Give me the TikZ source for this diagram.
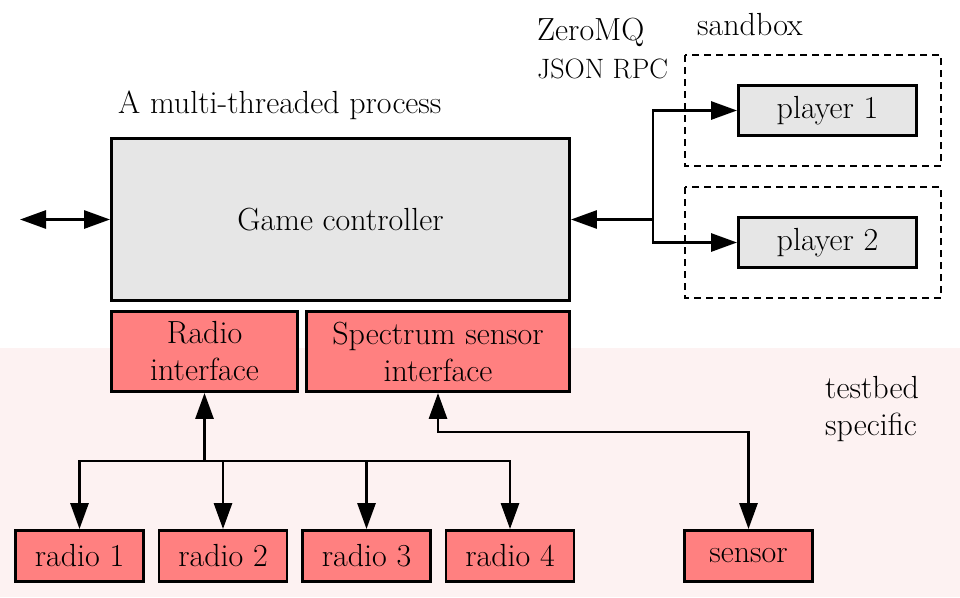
\documentclass[tikz,border=0pt]{standalone}
\usepackage{fontspec}
\setmainfont{Latin Modern Roman}
\usetikzlibrary{arrows.meta}
\definecolor{boxgray}{RGB}{230,230,230}
\definecolor{boxred}{RGB}{255,128,128}
\definecolor{bgpink}{RGB}{253,242,242}
\begin{document}
\begin{tikzpicture}[x=1pt,y=-1pt,
  every node/.style={font=\fontsize{32}{37}\selectfont},
  graybox/.style={draw=black,line width=2.9pt,fill=boxgray,inner sep=0pt},
  redbox/.style={draw=black,line width=2.9pt,fill=boxred,inner sep=0pt,align=center},
  conn/.style={line width=2.9pt,-{Triangle[length=26pt,width=18pt]}},
  bconn/.style={line width=2.9pt,{Triangle[length=26pt,width=18pt]}-{Triangle[length=26pt,width=18pt]}},
  sandboxframe/.style={draw=black,line width=2.9pt,dash pattern=on 7pt off 5pt},
  label/.style={inner sep=0pt,align=left}]
\useasboundingbox (0,0) rectangle (960,597);
\fill[bgpink] (0,348) rectangle (960,597);
% sandboxes
\draw[sandboxframe] (685,55) rectangle (941,166);
\draw[sandboxframe] (685,187) rectangle (941,298);
% boxes
\node[graybox,minimum width=458pt,minimum height=162pt] (gc) at (340.5,219.5) {Game controller};
\node[redbox,minimum width=186pt,minimum height=80pt] (ri) at (204.5,351.5) {Radio\\interface};
\node[redbox,minimum width=263pt,minimum height=80pt] (ssi) at (438,351.5) {Spectrum sensor\\interface};
\node[graybox,minimum width=178pt,minimum height=50pt] (p1) at (827.5,110.5) {player 1};
\node[graybox,minimum width=178pt,minimum height=50pt] (p2) at (827.5,242.5) {player 2};
\node[redbox,minimum width=128pt,minimum height=51pt] (r1) at (79.5,556) {radio 1};
\node[redbox,minimum width=128pt,minimum height=51pt] (r2) at (223,556) {radio 2};
\node[redbox,minimum width=128pt,minimum height=51pt] (r3) at (366.5,556) {radio 3};
\node[redbox,minimum width=128pt,minimum height=51pt] (r4) at (510,556) {radio 4};
\node[redbox,minimum width=128pt,minimum height=51pt] (sen) at (748.5,556) {sensor};
% labels
\node[label,anchor=base west] (proc) at (118,113) {A multi-threaded process};
\node[label,anchor=base west] (zmq) at (537,40) {ZeroMQ};
\node[label,anchor=base west,font=\fontsize{28}{37}\selectfont] (json) at (537,78) {JSON RPC};
\node[label,anchor=base west] (sbx) at (697,35) {sandbox};
\node[label,anchor=base west] (tb) at (825,398) {testbed};
\node[label,anchor=base west] (spec) at (825,435) {specific};
% connectors
\coordinate (ext) at (20,219.5);
\draw[bconn] (ext) -- (gc.west);
\coordinate (rj) at (653,219.5);
\draw[conn] (rj) -- (gc.east);
\draw[conn] (rj) |- (p1.west);
\draw[conn] (rj) |- (p2.west);
\coordinate (bus) at (204.5,461);
\draw[conn] (bus) -- (ri.south);
\draw[conn] (bus) -| (r1.north);
\draw[conn] (bus) -| (r2.north);
\draw[conn] (bus) -| (r3.north);
\draw[conn] (bus) -| (r4.north);
\coordinate (sb) at (438,432);
\draw[bconn] (ssi.south) -- (sb) -| (sen.north);
\end{tikzpicture}
\end{document}
